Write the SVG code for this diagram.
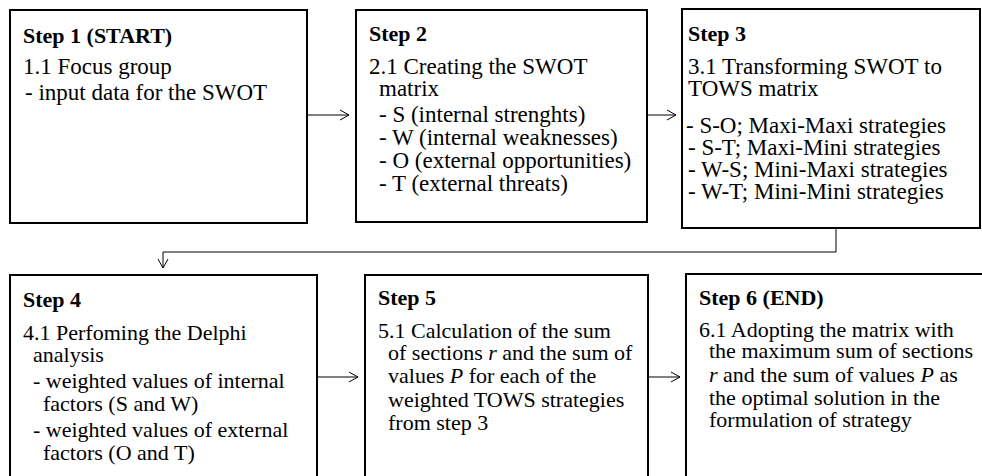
<svg xmlns="http://www.w3.org/2000/svg" width="982" height="476" viewBox="0 0 982 476">
<defs>
<marker id="arr" markerWidth="12" markerHeight="12" refX="10" refY="6" orient="auto" markerUnits="userSpaceOnUse">
<path d="M1,1 L10,6 L1,11" fill="none" stroke="#000" stroke-width="1"/>
</marker>
</defs>
<style>
.box{fill:#fff;stroke:#000;stroke-width:2}
.t{font-family:"Liberation Serif","Times New Roman",serif;font-size:22px;fill:#000}
.u{font-size:23px}
.h{font-weight:bold}
.i{font-style:italic}
.c{fill:none;stroke:#000;stroke-width:1}
</style>
<rect width="982" height="476" fill="#fff"/>
<g id="connectors">
<line class="c" x1="307" y1="115" x2="349" y2="115" marker-end="url(#arr)"/>
<line class="c" x1="647" y1="115" x2="676" y2="115" marker-end="url(#arr)"/>
<polyline class="c" points="836,228 836,252 163,252 163,268" marker-end="url(#arr)"/>
<line class="c" x1="317" y1="377" x2="358" y2="377" marker-end="url(#arr)"/>
<line class="c" x1="648" y1="377" x2="680" y2="377" marker-end="url(#arr)"/>
</g>
<g id="step1">
<rect class="box" x="10" y="10" width="297" height="213"/>
<text class="t h" x="23" y="43">Step 1 (START)</text>
<text class="t u" x="23" y="74">1.1 Focus group</text>
<text class="t u" x="25" y="100">- input data for the SWOT</text>
</g>
<g id="step2">
<rect class="box" x="356" y="10" width="291" height="212"/>
<text class="t h" x="369" y="41">Step 2</text>
<text class="t u" x="369" y="74">2.1 Creating the SWOT</text>
<text class="t u" x="379" y="96">matrix</text>
<text class="t u" x="379" y="122">- S (internal strenghts)</text>
<text class="t u" x="379" y="145">- W (internal weaknesses)</text>
<text class="t u" x="379" y="168">- O (external opportunities)</text>
<text class="t u" x="379" y="191">- T (external threats)</text>
</g>
<g id="step3">
<rect class="box" x="682" y="9" width="298" height="219"/>
<text class="t h" x="688" y="41">Step 3</text>
<text class="t u" x="688" y="74">3.1 Transforming SWOT to</text>
<text class="t u" x="688" y="96">TOWS matrix</text>
<text class="t u" x="686" y="133">- S-O; Maxi-Maxi strategies</text>
<text class="t u" x="688" y="155">- S-T; Maxi-Mini strategies</text>
<text class="t u" x="688" y="177">- W-S; Mini-Maxi strategies</text>
<text class="t u" x="688" y="199">- W-T; Mini-Mini strategies</text>
</g>
<g id="step4">
<rect class="box" x="10" y="275" width="307" height="220"/>
<text class="t h" x="23" y="307">Step 4</text>
<text class="t" x="23" y="340">4.1 Perfoming the Delphi</text>
<text class="t" x="33" y="362">analysis</text>
<text class="t" x="33" y="388">- weighted values of internal</text>
<text class="t" x="43" y="411">factors (S and W)</text>
<text class="t" x="33" y="437">- weighted values of external</text>
<text class="t" x="43" y="460">factors (O and T)</text>
</g>
<g id="step5">
<rect class="box" x="365" y="275" width="283" height="220"/>
<text class="t h" x="378" y="305">Step 5</text>
<text class="t" x="378" y="338">5.1 Calculation of the sum</text>
<text class="t" x="388" y="360">of sections <tspan class="i">r</tspan> and the sum of</text>
<text class="t" x="388" y="383">values <tspan class="i">P</tspan> for each of the</text>
<text class="t" x="388" y="407">weighted TOWS strategies</text>
<text class="t" x="388" y="430">from step 3</text>
</g>
<g id="step6">
<rect class="box" x="686" y="274" width="310" height="221"/>
<text class="t h" x="699" y="305">Step 6 (END)</text>
<text class="t" x="699" y="337">6.1 Adopting the matrix with</text>
<text class="t" x="709" y="358">the maximum sum of sections</text>
<text class="t" x="709" y="382"><tspan class="i">r</tspan> and the sum of values <tspan class="i">P</tspan> as</text>
<text class="t" x="709" y="405">the optimal solution in the</text>
<text class="t" x="709" y="427">formulation of strategy</text>
</g>
</svg>
